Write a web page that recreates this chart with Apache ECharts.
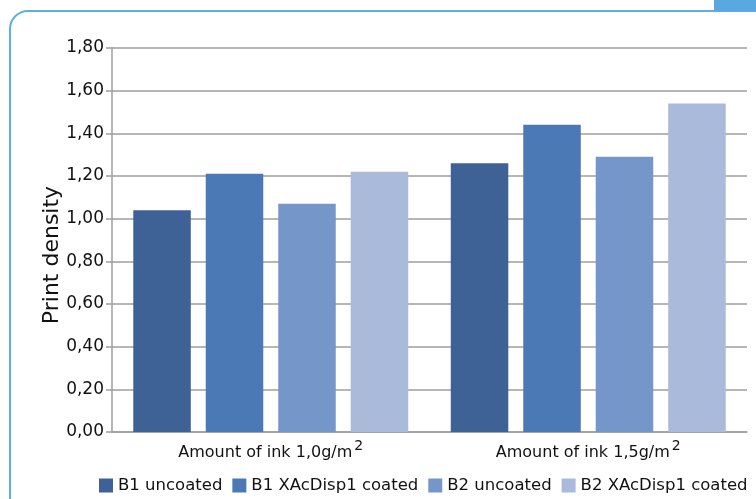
<!DOCTYPE html>
<html>
<head>
<meta charset="utf-8">
<script src="https://cdn.jsdelivr.net/npm/echarts@6/dist/echarts.min.js"></script>
<style>
  html, body { margin: 0; padding: 0; background: #ffffff; }
  #chart { width: 756px; height: 499px; }
</style>
</head>
<body>
<div id="chart"></div>
<script>
// Print density per ink amount
const categories = ['Amount of ink 1,0g/m²', 'Amount of ink 1,5g/m²'];
const seriesNames = ['B1 uncoated', 'B1 XAcDisp1 coated', 'B2 uncoated', 'B2 XAcDisp1 coated'];
const b1Uncoated = [1.04, 1.26];
const b1Coated = [1.21, 1.44];
const b2Uncoated = [1.07, 1.29];
const b2Coated = [1.22, 1.54];
const yTicks = { min: 0, max: 1.8, step: 0.2 };

const seriesValues = [b1Uncoated, b1Coated, b2Uncoated, b2Coated];
const colors = ['#3e6196', '#4a79b6', '#7596c9', '#a9badb'];
const font = '"DejaVu Sans", "Liberation Sans", Arial, sans-serif';
const gridGray = '#9e9e9e';
const ink = '#111111';

const chart = echarts.init(document.getElementById('chart'));

chart.setOption({
  animation: false,
  textStyle: { fontFamily: font },
  graphic: [
    {
      type: 'rect',
      shape: { x: 10, y: 11, width: 800, height: 520, r: 18 },
      style: { fill: 'none', stroke: '#5eaee4', lineWidth: 2 },
      z: -1
    },
    {
      type: 'rect',
      shape: { x: 714, y: 0, width: 42, height: 11 },
      style: { fill: '#5aa8e0' },
      z: -1
    }
  ],
  grid: { left: 112, right: 9, top: 48, bottom: 67 },
  legend: {
    data: seriesNames,
    bottom: 0,
    left: 94,
    itemWidth: 14,
    itemHeight: 14,
    itemGap: 10,
    icon: 'rect',
    textStyle: { fontSize: 16.5, color: ink, fontFamily: font }
  },
  xAxis: {
    type: 'category',
    data: categories,
    axisLine: { show: true, lineStyle: { color: gridGray, width: 1.5 } },
    axisTick: { show: false },
    axisLabel: {
      margin: 7,
      color: ink,
      formatter: v => '{base|' + v.replace('²', '') + '}{sup|2}',
      rich: {
        base: { fontSize: 16, fontFamily: font, color: ink, verticalAlign: 'bottom', lineHeight: 22 },
        sup: { fontSize: 14, fontFamily: font, color: ink, verticalAlign: 'bottom', padding: [0, 0, 8, 2], lineHeight: 22 }
      }
    }
  },
  yAxis: {
    type: 'value',
    min: yTicks.min,
    max: yTicks.max,
    interval: yTicks.step,
    name: 'Print density',
    nameLocation: 'middle',
    nameGap: 49,
    nameMoveOverlap: false,
    nameRotate: 90,
    nameTextStyle: { fontSize: 22, color: ink, fontFamily: font, padding: [0, 30, 0, 0] },
    axisLine: { show: true, lineStyle: { color: gridGray, width: 1.5 } },
    axisTick: { show: true, inside: false, length: 6, lineStyle: { color: gridGray, width: 1.5 } },
    axisLabel: {
      margin: 8,
      fontSize: 17,
      color: ink,
      formatter: v => v.toFixed(2).replace('.', ',')
    },
    splitLine: { show: true, lineStyle: { color: gridGray, width: 1.5 } }
  },
  series: seriesNames.map((name, i) => ({
    name,
    type: 'bar',
    data: seriesValues[i],
    barGap: '26%',
    barCategoryGap: '13.4%',
    itemStyle: { color: colors[i] }
  }))
});
</script>
</body>
</html>
